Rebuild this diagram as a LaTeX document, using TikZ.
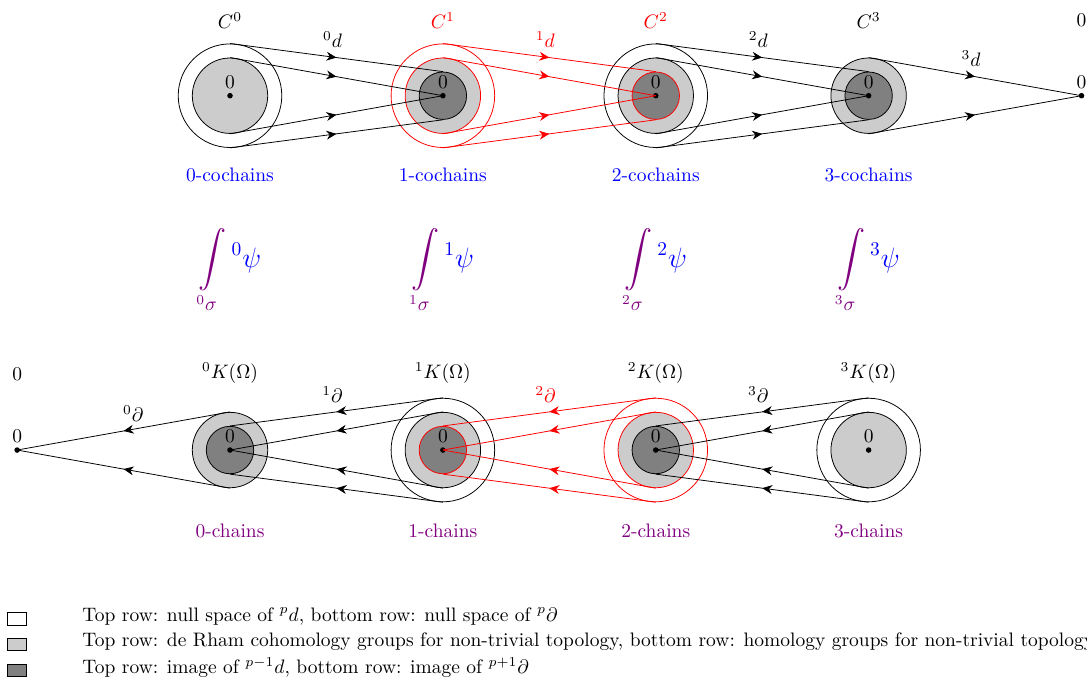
\documentclass[tikz,border=0pt]{standalone}
\usepackage{amsmath}
\usepackage{tikz}
\usetikzlibrary{arrows.meta, positioning, calc, decorations.markings}
\definecolor{drLight}{HTML}{CCCCCC}
\definecolor{drDark}{HTML}{808080}
\definecolor{drPurple}{HTML}{800080}
\definecolor{drBlue}{HTML}{0000FF}
\definecolor{drRed}{HTML}{FF0000}
\tikzset{
  drbig/.style={circle, draw, fill=white, minimum size=1.868cm, inner sep=0pt},
  drmid/.style={circle, draw, fill=drLight, minimum size=1.36cm, inner sep=0pt},
  drcore/.style={circle, draw, fill=drDark, minimum size=0.855cm, inner sep=0pt},
  drdot/.style={circle, fill=black, minimum size=1mm, inner sep=0pt,
                label={[inner sep=2pt]above:$0$}},
  drflow/.style={postaction={decorate},
                 decoration={markings, mark=at position 0.5 with {\arrow{Stealth[length=1.8mm, width=1.6mm]}}}},
  drlab/.style={above=1.5pt, xshift=-2pt},
  drkey/.style={rectangle, draw, line width=0.6pt, minimum width=0.35cm,
                minimum height=0.222cm, inner sep=0pt},
  drtext/.style={yshift=1.5pt},
}

\begin{document}
\begin{tikzpicture}
  \useasboundingbox (0,0) rectangle (19.603,-12.245);
  % centres of the columns, top row (cochains) and bottom row (chains)
  \coordinate (t0) at (4.148,-1.726);
  \coordinate[right=3.839cm of t0] (t1);
  \coordinate[right=3.839cm of t1] (t2);
  \coordinate[right=3.839cm of t2] (t3);
  \coordinate[right=3.839cm of t3] (tz);
  \coordinate[below=6.39cm of t0] (b0);
  \coordinate[right=3.839cm of b0] (b1);
  \coordinate[right=3.839cm of b1] (b2);
  \coordinate[right=3.839cm of b2] (b3);
  \coordinate[left=3.839cm of b0] (bz);

  % top row
  \node[drbig] (t0o) at (t0) {};
  \node[drmid] (t0g) at (t0) {};
  \node[drbig, draw=drRed] (t1o) at (t1) {};
  \node[drmid, draw=drRed] (t1g) at (t1) {};
  \node[drcore] (t1d) at (t1) {};
  \node[drbig] (t2o) at (t2) {};
  \node[drmid] (t2g) at (t2) {};
  \node[drcore, draw=drRed] (t2d) at (t2) {};
  \node[drmid] (t3g) at (t3) {};
  \node[drcore] (t3d) at (t3) {};

  % bottom row
  \node[drmid] (b0g) at (b0) {};
  \node[drcore] (b0d) at (b0) {};
  \node[drbig] (b1o) at (b1) {};
  \node[drmid] (b1g) at (b1) {};
  \node[drcore, draw=drRed] (b1d) at (b1) {};
  \node[drbig, draw=drRed] (b2o) at (b2) {};
  \node[drmid, draw=drRed] (b2g) at (b2) {};
  \node[drcore] (b2d) at (b2) {};
  \node[drbig] (b3o) at (b3) {};
  \node[drmid] (b3g) at (b3) {};

  \foreach \p in {t0,t1,t2,t3,tz,b0,b1,b2,b3,bz}
    \node[drdot] (\p p) at (\p) {};

  % exterior derivatives
  \draw[drflow] (t0o.north) -- node[drlab] {$^0d$} (t1d.north);
  \draw[drflow] (t0g.north) -- (t1p.center);
  \draw[drflow] (t0g.south) -- (t1p.center);
  \draw[drflow] (t0o.south) -- (t1d.south);
  \draw[drflow, drRed] (t1o.north) -- node[drlab] {$^1d$} (t2d.north);
  \draw[drflow, drRed] (t1g.north) -- (t2p.center);
  \draw[drflow, drRed] (t1g.south) -- (t2p.center);
  \draw[drflow, drRed] (t1o.south) -- (t2d.south);
  \draw[drflow] (t2o.north) -- node[drlab] {$^2d$} (t3d.north);
  \draw[drflow] (t2g.north) -- (t3p.center);
  \draw[drflow] (t2g.south) -- (t3p.center);
  \draw[drflow] (t2o.south) -- (t3d.south);
  \draw[drflow] (t3g.north) -- node[drlab] {$^3d$} (tzp.center);
  \draw[drflow] (t3g.south) -- (tzp.center);

  % boundary operators
  \draw[drflow] (b0g.north) -- node[drlab, xshift=7pt] {$^0\partial$} (bzp.center);
  \draw[drflow] (b0g.south) -- (bzp.center);
  \draw[drflow] (b1o.north) -- node[drlab] {$^1\partial$} (b0d.north);
  \draw[drflow] (b1g.north) -- (b0p.center);
  \draw[drflow] (b1g.south) -- (b0p.center);
  \draw[drflow] (b1o.south) -- (b0d.south);
  \draw[drflow, drRed] (b2o.north) -- node[drlab] {$^2\partial$} (b1d.north);
  \draw[drflow, drRed] (b2g.north) -- (b1p.center);
  \draw[drflow, drRed] (b2g.south) -- (b1p.center);
  \draw[drflow, drRed] (b2o.south) -- (b1d.south);
  \draw[drflow] (b3o.north) -- node[drlab] {$^3\partial$} (b2d.north);
  \draw[drflow] (b3g.north) -- (b2p.center);
  \draw[drflow] (b3g.south) -- (b2p.center);
  \draw[drflow] (b3o.south) -- (b2d.south);

  % space names
  \node (n0) at ($(t0)+(0,1.362)$) {$C^0$};
  \node[text=drRed] (n1) at ($(t1)+(0,1.362)$) {$C^1$};
  \node[text=drRed] (n2) at ($(t2)+(0,1.362)$) {$C^2$};
  \node (n3) at ($(t3)+(0,1.362)$) {$C^3$};
  \node (nz) at ($(tz)+(0,1.362)$) {$0$};
  \node (m0) at ($(b0)+(0,1.389)$) {$^0K(\Omega)$};
  \node (m1) at ($(b1)+(0,1.389)$) {$^1K(\Omega)$};
  \node (m2) at ($(b2)+(0,1.389)$) {$^2K(\Omega)$};
  \node (m3) at ($(b3)+(0,1.389)$) {$^3K(\Omega)$};
  \node (mz) at ($(bz)+(0,1.362)$) {$0$};

  \node[text=drBlue] (q0) at ($(t0)+(0,-1.425)$) {0-cochains};
  \node[text=drBlue] (q1) at ($(t1)+(0,-1.425)$) {1-cochains};
  \node[text=drBlue] (q2) at ($(t2)+(0,-1.425)$) {2-cochains};
  \node[text=drBlue] (q3) at ($(t3)+(0,-1.425)$) {3-cochains};
  \node[text=drPurple] (r0) at ($(b0)+(0,-1.461)$) {0-chains};
  \node[text=drPurple] (r1) at ($(b1)+(0,-1.461)$) {1-chains};
  \node[text=drPurple] (r2) at ($(b2)+(0,-1.461)$) {2-chains};
  \node[text=drPurple] (r3) at ($(b3)+(0,-1.461)$) {3-chains};

  % pairing of chains and cochains
  \node (i0) at ($(t0)+(0,-3.163)$) {\Large$\displaystyle\color{drPurple}\int\limits_{{}^0\sigma}\color{drBlue}{}^0\psi$};
  \node (i1) at ($(t1)+(0,-3.163)$) {\Large$\displaystyle\color{drPurple}\int\limits_{{}^1\sigma}\color{drBlue}{}^1\psi$};
  \node (i2) at ($(t2)+(0,-3.163)$) {\Large$\displaystyle\color{drPurple}\int\limits_{{}^2\sigma}\color{drBlue}{}^2\psi$};
  \node (i3) at ($(t3)+(0,-3.163)$) {\Large$\displaystyle\color{drPurple}\int\limits_{{}^3\sigma}\color{drBlue}{}^3\psi$};

  % legend
  \node[drkey, fill=white] (k1) at (0.307,-11.163) {};
  \node[drkey, fill=drLight, below=0.22cm of k1] (k2) {};
  \node[drkey, fill=drDark, below=0.22cm of k2] (k3) {};
  \node[drtext, right=0.87cm of k1] (e1) {Top row: null space of $^pd$, bottom row: null space of $^p\partial$};
  \node[drtext, right=0.87cm of k2] (e2) {Top row: de Rham cohomology groups for non-trivial topology, bottom row: homology groups for non-trivial topology};
  \node[drtext, right=0.87cm of k3] (e3) {Top row: image of $^{p-1}d$, bottom row: image of $^{p+1}\partial$};
\end{tikzpicture}
\end{document}
